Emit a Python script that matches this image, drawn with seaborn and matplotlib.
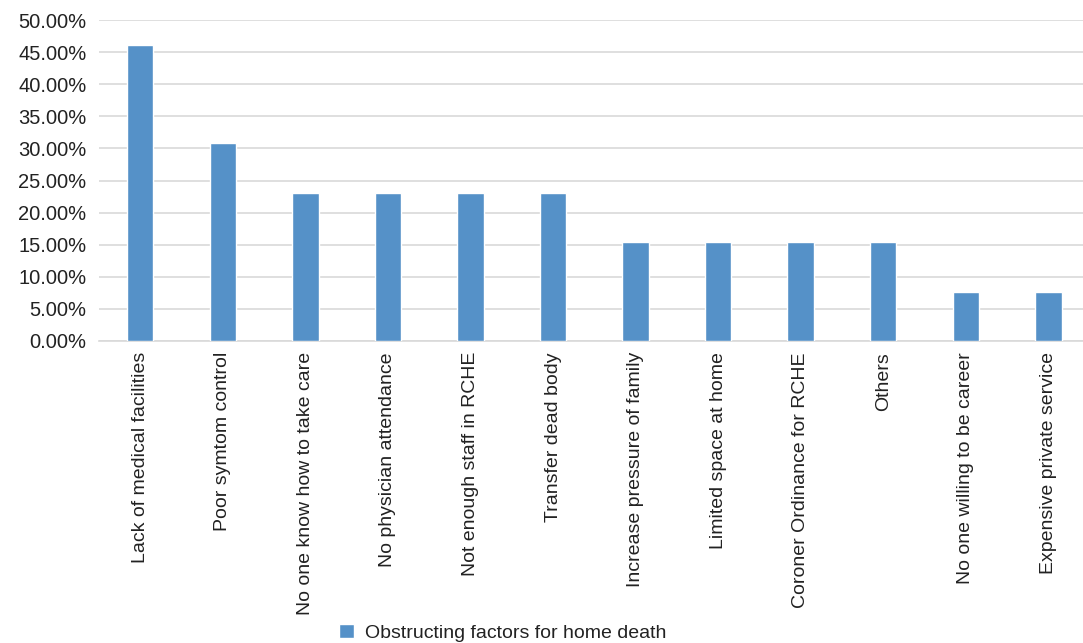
import matplotlib
matplotlib.use("Agg")
import matplotlib.pyplot as plt
import seaborn as sns
import pandas as pd
from matplotlib.ticker import PercentFormatter
from matplotlib.patches import Patch

factors = [
    "Lack of medical facilities",
    "Poor symtom control",
    "No one know how to take care",
    "No physician attendance",
    "Not enough staff in RCHE",
    "Transfer dead body",
    "Increase pressure of family",
    "Limited space at home",
    "Coroner Ordinance for RCHE",
    "Others",
    "No one willing to be career",
    "Expensive private service",
]
shares = [46.15, 30.77, 23.08, 23.08, 23.08, 23.08, 15.38, 15.38, 15.38, 15.38, 7.69, 7.69]
series_name = "Obstructing factors for home death"

df = pd.DataFrame({"factor": factors, "share": shares})

sns.set_theme(style="white")
plt.rcParams["font.family"] = ["Liberation Sans", "DejaVu Sans"]

bar_color = "#5591C8"
grid_color = "#D9D9D9"
text_color = "#222222"

fig = plt.figure(figsize=(10.83, 6.43), dpi=100)
ax = fig.add_axes([99 / 1083, 1 - 341 / 643, 1 - 99 / 1083, (341 - 20) / 643])

sns.barplot(data=df, x="factor", y="share", color=bar_color, width=0.32,
            saturation=1, ax=ax, zorder=3)

ax.set_ylim(0, 50)
ax.set_yticks(range(0, 51, 5))
ax.yaxis.set_major_formatter(PercentFormatter(decimals=2))
ax.set_xlim(-0.5, 11.42)
ax.grid(axis="y", color=grid_color, linewidth=1.2, zorder=0)
ax.set_xlabel("")
ax.set_ylabel("")
for side in ["left", "right", "top"]:
    ax.spines[side].set_visible(False)
ax.spines["bottom"].set_color(grid_color)
ax.spines["bottom"].set_linewidth(1.2)
ax.tick_params(axis="both", length=0, colors=text_color)
ax.tick_params(axis="y", pad=9, labelsize=14.5)
ax.tick_params(axis="x", pad=8, labelsize=14)
plt.setp(ax.get_xticklabels(), rotation=90, va="top", ha="center")

fig.legend(handles=[Patch(facecolor=bar_color, label=series_name)],
           loc="center", bbox_to_anchor=(503 / 1083, 1 - 633 / 643),
           frameon=False, fontsize=14, handlelength=0.75, handleheight=0.75,
           handletextpad=0.6, labelcolor=text_color)

fig.savefig("out.png", dpi=100)
